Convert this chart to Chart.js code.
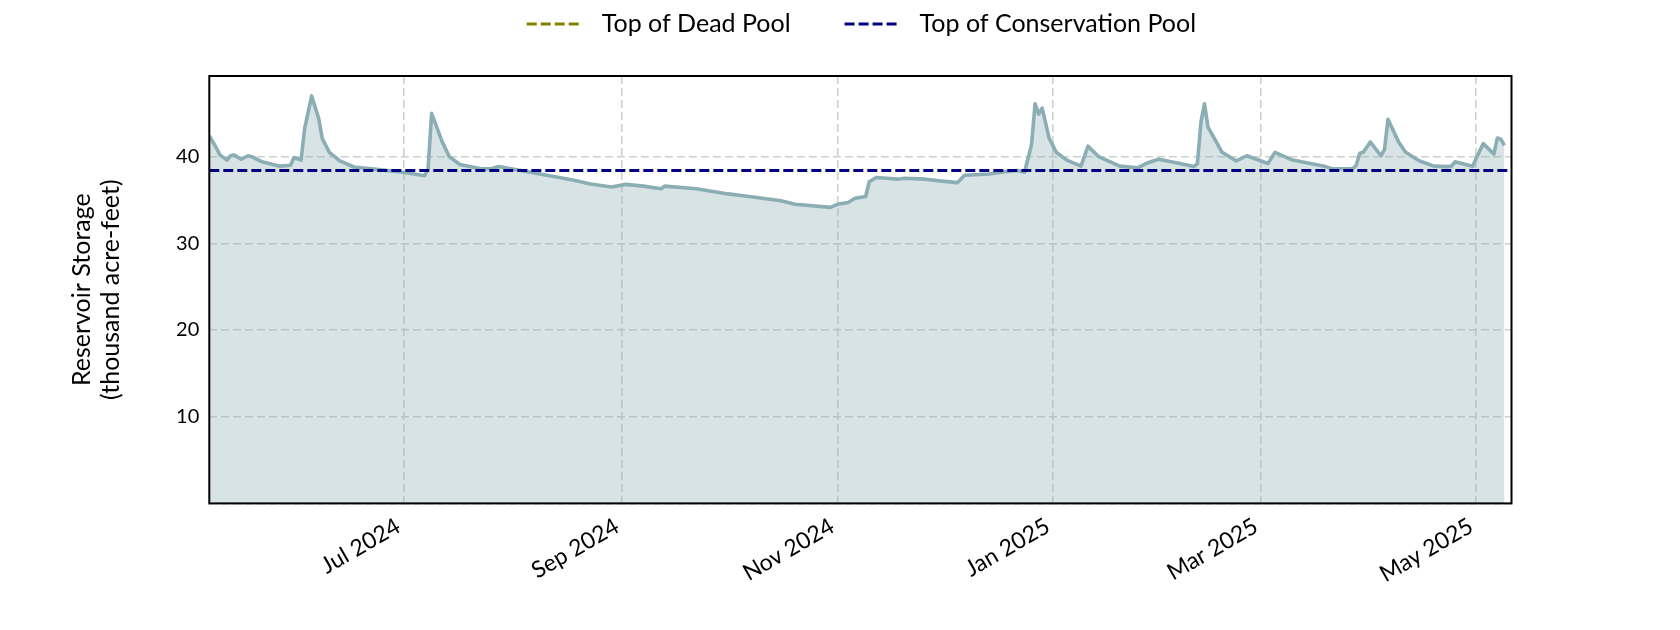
<!DOCTYPE html>
<html>
<head>
<meta charset="utf-8">
<script src="https://cdn.jsdelivr.net/npm/chart.js@4/dist/chart.umd.min.js"></script>
<style>
  body { margin: 0; background: #fff; }
  canvas { display: block; }
</style>
</head>
<body>
<canvas id="storageChart" width="1680" height="630"></canvas>
<script>
// Daily reservoir storage (thousand acre-feet)
const dates = [
  '2024-05-07', '2024-05-09', '2024-05-10', '2024-05-12', '2024-05-13', '2024-05-14', '2024-05-16',
  '2024-05-18', '2024-05-19', '2024-05-22', '2024-05-27', '2024-05-30', '2024-05-31', '2024-06-02',
  '2024-06-03', '2024-06-05', '2024-06-07', '2024-06-08', '2024-06-10', '2024-06-13', '2024-06-17',
  '2024-06-24', '2024-07-01', '2024-07-07', '2024-07-08', '2024-07-09', '2024-07-12', '2024-07-14',
  '2024-07-17', '2024-07-23', '2024-07-26', '2024-07-28', '2024-08-06', '2024-08-18', '2024-08-23',
  '2024-08-29', '2024-09-02', '2024-09-07', '2024-09-12', '2024-09-13', '2024-09-22', '2024-10-01',
  '2024-10-07', '2024-10-16', '2024-10-20', '2024-10-30', '2024-11-01', '2024-11-04', '2024-11-06',
  '2024-11-09', '2024-11-10', '2024-11-12', '2024-11-15', '2024-11-18', '2024-11-20', '2024-11-26',
  '2024-11-30', '2024-12-05', '2024-12-07', '2024-12-14', '2024-12-19', '2024-12-22', '2024-12-24',
  '2024-12-26', '2024-12-27', '2024-12-28', '2024-12-29', '2024-12-31', '2025-01-02', '2025-01-05',
  '2025-01-09', '2025-01-11', '2025-01-14', '2025-01-20', '2025-01-25', '2025-01-28', '2025-01-31',
  '2025-02-05', '2025-02-10', '2025-02-11', '2025-02-12', '2025-02-13', '2025-02-14', '2025-02-18',
  '2025-02-22', '2025-02-25', '2025-03-03', '2025-03-05', '2025-03-10', '2025-03-15', '2025-03-19',
  '2025-03-21', '2025-03-27', '2025-03-28', '2025-03-29', '2025-03-30', '2025-04-01', '2025-04-04',
  '2025-04-05', '2025-04-06', '2025-04-09', '2025-04-11', '2025-04-15', '2025-04-19', '2025-04-23',
  '2025-04-24', '2025-04-25', '2025-04-30', '2025-05-01', '2025-05-03', '2025-05-06', '2025-05-07',
  '2025-05-08', '2025-05-09'
];
const storage = [
  42.4, 41.0, 40.2, 39.6, 40.1, 40.2, 39.7,
  40.1, 40.0, 39.4, 38.9, 39.0, 39.9, 39.6,
  43.2, 47.0, 44.4, 42.1, 40.5, 39.5, 38.8,
  38.5, 38.2, 37.8, 38.6, 45.0, 41.7, 40.0,
  39.1, 38.6, 38.6, 38.85, 38.2, 37.3, 36.85,
  36.5, 36.8, 36.6, 36.3, 36.6, 36.3, 35.7,
  35.4, 34.9, 34.5, 34.15, 34.5, 34.7, 35.2,
  35.4, 37.1, 37.6, 37.5, 37.4, 37.5, 37.4,
  37.2, 37.0, 37.85, 38.0, 38.3, 38.4, 38.2,
  41.4, 46.1, 44.9, 45.6, 42.1, 40.5, 39.6,
  38.9, 41.2, 40.0, 38.9, 38.7, 39.3, 39.7,
  39.3, 38.85, 39.2, 44.0, 46.1, 43.4, 40.5,
  39.5, 40.1, 39.2, 40.5, 39.6, 39.2, 38.9,
  38.6, 38.6, 39.0, 40.4, 40.5, 41.7, 40.1,
  40.8, 44.3, 41.7, 40.5, 39.5, 38.9, 38.85,
  38.9, 39.4, 38.9, 39.8, 41.5, 40.3, 42.15,
  42.0, 41.3
];

// pool levels (horizontal reference lines)
const deadPool = 0;
const conservationPool = 38.4;

// axis limits and ticks
const xStart = '2024-05-07';
const xEnd = '2025-05-11';
const tickDates = ['2024-07-01', '2024-09-01', '2024-11-01', '2025-01-01', '2025-03-01', '2025-05-01'];
const tickLabels = ['Jul 2024', 'Sep 2024', 'Nov 2024', 'Jan 2025', 'Mar 2025', 'May 2025'];
const yTicks = [0, 10, 20, 30, 40];
const yMax = 49.3;

function toDay(s) {
  const p = s.split('-').map(Number);
  return Date.UTC(p[0], p[1] - 1, p[2]) / 86400000;
}

const xMin = toDay(xStart);
const xMax = toDay(xEnd);
const tickDays = tickDates.map(toDay);

const points = dates.map((d, i) => ({x: toDay(d), y: storage[i]}));
const poolLine = v => [{x: xMin, y: v}, {x: xMax, y: v}];

const FONT = 'Lato';

// black frame round the plot area
const framePlugin = {
  id: 'frame',
  afterDraw(chart) {
    const {ctx, chartArea: a} = chart;
    ctx.save();
    ctx.strokeStyle = '#000';
    ctx.lineWidth = 2;
    ctx.strokeRect(a.left, a.top, a.right - a.left, a.bottom - a.top);
    ctx.restore();
  }
};

// legend centred over the plot area, like matplotlib's
const poolLegend = {
  id: 'poolLegend',
  afterDraw(chart) {
    const {ctx, chartArea: a} = chart;
    const items = chart.data.datasets.filter(d => d.inLegend);
    const handle = 54, gap = 23, itemGap = 52, y = 24;
    ctx.save();
    ctx.font = '25px ' + FONT;
    const widths = items.map(d => ctx.measureText(d.label).width);
    let total = itemGap * (items.length - 1);
    widths.forEach(w => total += handle + gap + w);
    let x = (a.left + a.right) / 2 - total / 2;
    items.forEach((d, i) => {
      ctx.strokeStyle = d.borderColor;
      ctx.lineWidth = d.borderWidth;
      ctx.setLineDash(d.borderDash);
      ctx.beginPath();
      ctx.moveTo(x + 2, y);
      ctx.lineTo(x + handle, y);
      ctx.stroke();
      ctx.setLineDash([]);
      ctx.fillStyle = '#000';
      ctx.textBaseline = 'middle';
      ctx.fillText(d.label, x + handle + gap, y);
      x += handle + gap + widths[i] + itemGap;
    });
    ctx.restore();
  }
};

new Chart(document.getElementById('storageChart'), {
  type: 'line',
  data: {
    datasets: [
      {
        label: 'Storage',
        data: points,
        borderColor: 'rgb(139, 174, 180)',
        backgroundColor: 'rgba(139, 174, 180, 0.35)',
        borderWidth: 3.6,
        borderJoinStyle: 'round',
        fill: 'origin',
        pointRadius: 0,
        tension: 0,
        order: 3
      },
      {
        // sits under the bottom spine, as in the original
        label: 'Top of Dead Pool',
        inLegend: true,
        data: poolLine(deadPool),
        borderColor: '#808000',
        borderDash: [10, 4],
        borderWidth: 2.8,
        pointRadius: 0,
        fill: false,
        clip: {left: 0, top: 0, right: 0, bottom: -1.5},
        order: 2
      },
      {
        label: 'Top of Conservation Pool',
        inLegend: true,
        data: poolLine(conservationPool),
        borderColor: '#000080',
        borderDash: [10, 4],
        borderWidth: 2.8,
        pointRadius: 0,
        fill: false,
        order: 1
      }
    ]
  },
  options: {
    responsive: false,
    animation: false,
    layout: {padding: {top: 76, right: 168.5, left: 0, bottom: 0}},
    plugins: {
      legend: {display: false},
      tooltip: {enabled: false}
    },
    scales: {
      x: {
        type: 'linear',
        min: xMin,
        max: xMax,
        afterBuildTicks: s => { s.ticks = tickDays.map(v => ({value: v})); },
        afterFit: s => { s.height = 126.6; },
        ticks: {
          autoSkip: false,
          minRotation: 30,
          maxRotation: 30,
          padding: 9,
          labelOffset: -5,
          color: '#000',
          font: {family: FONT, size: 23},
          callback: v => tickLabels[tickDays.indexOf(v)]
        },
        grid: {color: '#d0d0d0', lineWidth: 1.6, drawTicks: false},
        border: {display: false, dash: [8, 4]}
      },
      y: {
        min: 0,
        max: yMax,
        afterBuildTicks: s => { s.ticks = yTicks.map(v => ({value: v})); },
        afterFit: s => { s.width = 209.3; },
        ticks: {
          padding: 10,
          color: '#000',
          font: {family: FONT, size: 20},
          callback: v => (v === 0 ? '' : v)
        },
        grid: {color: '#d0d0d0', lineWidth: 1.6, drawTicks: false},
        border: {display: false, dash: [8, 4]},
        title: {
          display: true,
          text: ['Reservoir Storage', '(thousand acre-feet)'],
          color: '#000',
          font: {family: FONT, size: 25, lineHeight: 1.16},
          padding: {top: 67, bottom: 0}
        }
      }
    }
  },
  plugins: [framePlugin, poolLegend]
});
</script>
</body>
</html>
